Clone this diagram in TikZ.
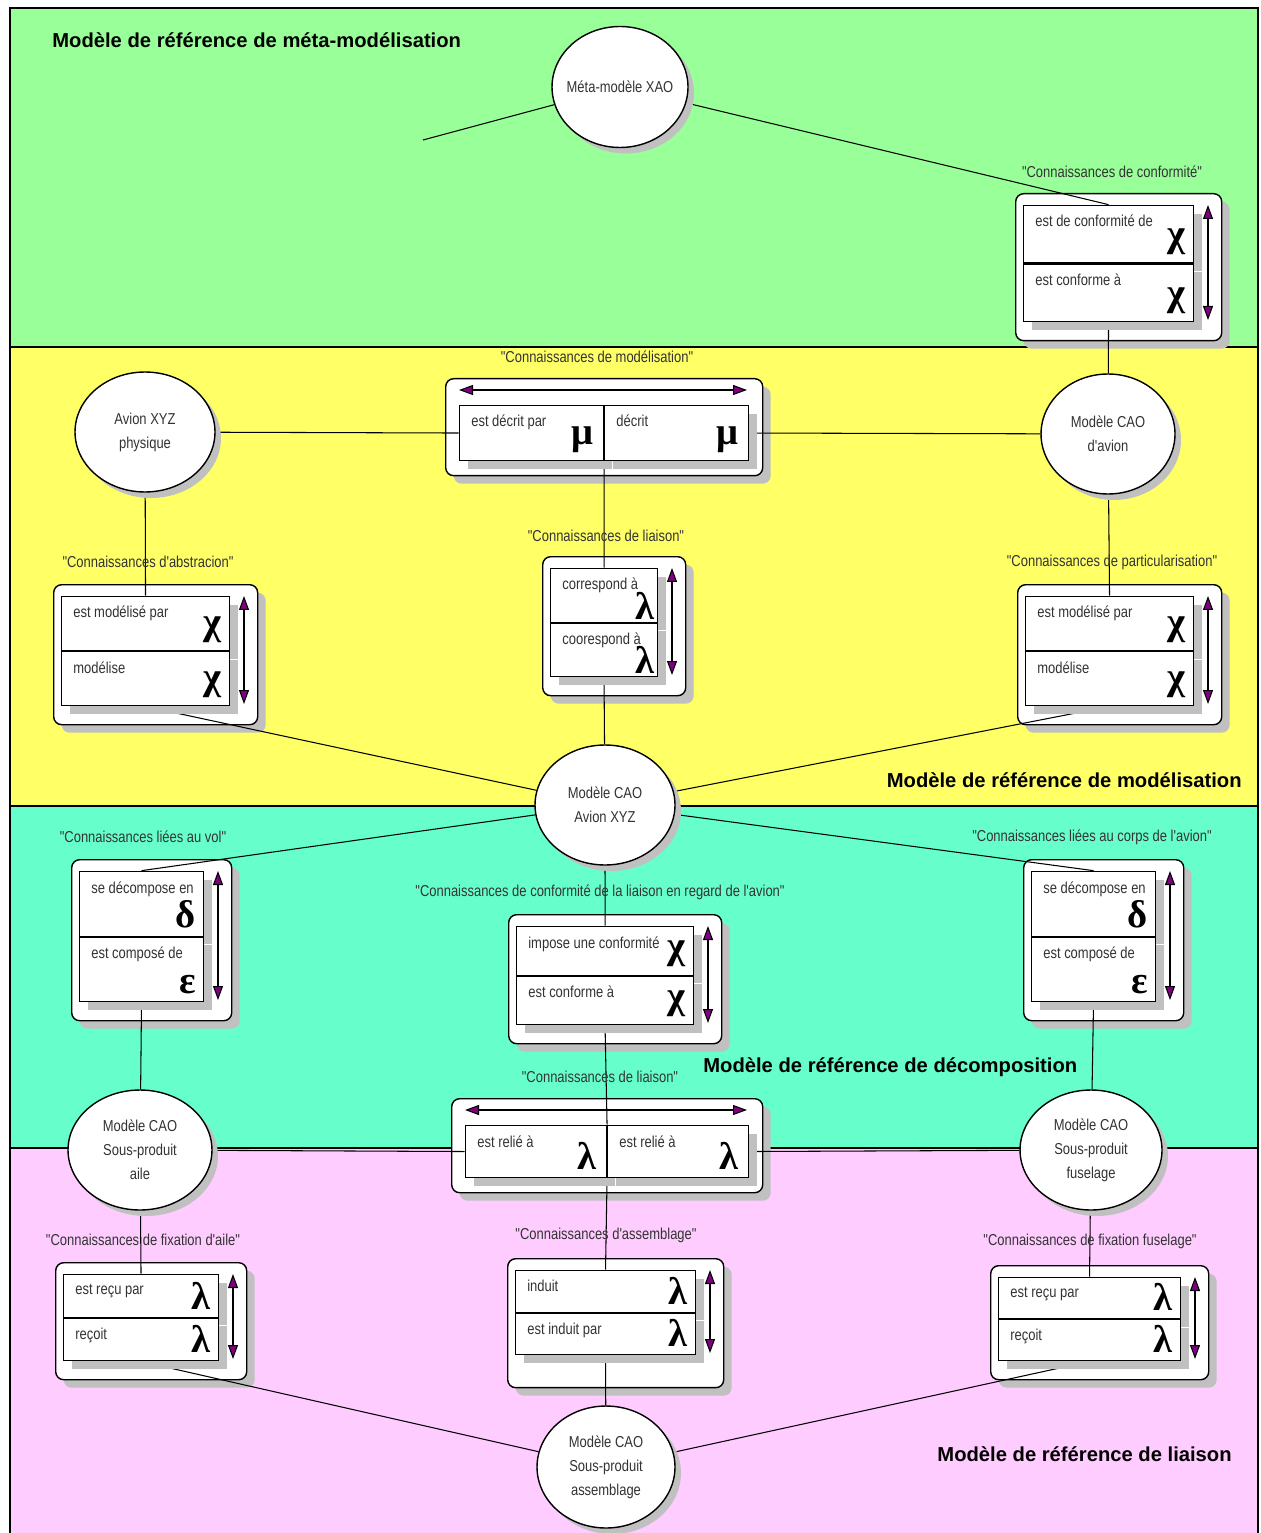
\documentclass[tikz,border=0pt]{standalone}
\usepackage{fontspec}
\setmainfont{Liberation Sans}
\newfontfamily\narrowfont[FakeStretch=0.82]{Liberation Sans}
\newfontfamily\greekfont{Liberation Serif}
\usepackage{tikz}
\usetikzlibrary{shapes.geometric,shadows,fit,arrows.meta}
\definecolor{BandMeta}{HTML}{99FF99}
\definecolor{BandModel}{HTML}{FFFF66}
\definecolor{BandDecomp}{HTML}{66FFCC}
\definecolor{BandLiaison}{HTML}{FFCCFF}
\definecolor{ShadowGray}{HTML}{C0C0C0}
\definecolor{ArrowPurple}{HTML}{800080}
\pgfdeclarelayer{bands}
\pgfdeclarelayer{frames}
\pgfdeclarelayer{links}
\pgfsetlayers{bands,frames,links,main}

% vertical relation box: name, left, top, width, cell height, text/greek top, text/greek bottom
\newcommand\relbox[9]{%
  \begin{pgfonlayer}{frames}
    \node[relframe, minimum width={(#4+36)*0.02cm}, minimum height={(2*#5+32)*0.02cm}, framesize] (#1f) at ({#2-8},{#3-12}) {};
  \end{pgfonlayer}
  \node[relcell, minimum width={#4*0.02cm}, minimum height={#5*0.02cm}] (#1a) at (#2,#3) {};
  \node[relcell, minimum width={#4*0.02cm}, minimum height={#5*0.02cm}] (#1b) at (#1a.south west) {};
  \node[fit=(#1a)(#1b), inner sep=0pt] (#1) {};
  \node[reltext] (#1ta) at ([shift={(12,10)}]#1a.north west) {#6};
  \node[relgreek] (#1ga) at (#1a.south east) {#7};
  \node[reltext] (#1tb) at ([shift={(12,10)}]#1b.north west) {#8};
  \node[relgreek] (#1gb) at (#1b.south east) {#9};
  \draw[dblarr] ({#2+#4+15},#3) -- ({#2+#4+15},{#3+2*#5});
}
% horizontal relation box: name, left, top, cell width, height, text/greek left, text/greek right
\newcommand\hrelbox[9]{%
  \begin{pgfonlayer}{frames}
    \node[relframe, minimum width={(2*#4+29)*0.02cm}, minimum height={(#5+42)*0.02cm}] (#1f) at ({#2-14},{#3-27}) {};
  \end{pgfonlayer}
  \node[relcell, minimum width={#4*0.02cm}, minimum height={#5*0.02cm}] (#1a) at (#2,#3) {};
  \node[relcell, minimum width={#4*0.02cm}, minimum height={#5*0.02cm}] (#1b) at (#1a.north east) {};
  \node[fit=(#1a)(#1b), inner sep=0pt] (#1) {};
  \node[reltext] (#1ta) at ([shift={(12,10)}]#1a.north west) {#6};
  \node[relgreek, xshift=-0.04cm] (#1ga) at (#1a.south east) {#7};
  \node[reltext] (#1tb) at ([shift={(12,10)}]#1b.north west) {#8};
  \node[relgreek, xshift=-0.04cm] (#1gb) at (#1b.south east) {#9};
  \draw[dblarr] (#2,{#3-15}) -- ({#2+2*#4},{#3-15});
}

\begin{document}
\begin{tikzpicture}[
  x=0.02cm, y=-0.02cm,
  bandline/.style={line width=1.1pt},
  bandtitle/.style={font=\bfseries\fontsize{11.5}{13}\selectfont, inner sep=0pt},
  modelell/.style={ellipse, draw, fill=white, line width=0.8pt, inner sep=0pt, inner xsep=-0.3cm,
                   font=\narrowfont\fontsize{9}{13.6}\selectfont, align=center, text=black!80,
                   drop shadow={shadow xshift=0.12cm, shadow yshift=-0.12cm, fill=ShadowGray, opacity=1}},
  relframe/.style={rectangle, rounded corners=0.16cm, draw, fill=white, line width=0.8pt,
                   anchor=north west, inner sep=0pt,
                   drop shadow={shadow xshift=0.16cm, shadow yshift=-0.16cm, fill=ShadowGray, opacity=1}},
  framesize/.style={},
  relcell/.style={rectangle, draw, fill=white, line width=0.6pt, anchor=north west, inner sep=0pt,
                  drop shadow={shadow xshift=0.16cm, shadow yshift=-0.16cm, fill=ShadowGray, opacity=1}},
  reltext/.style={anchor=north west, inner sep=0pt, text=black!80,
                  font=\narrowfont\fontsize{9}{11}\selectfont},
  relgreek/.style={anchor=south east, inner sep=0pt, xshift=-0.16cm, yshift=0.16cm, greekpos,
                   font=\greekfont\bfseries\fontsize{22}{22}\selectfont},
  greekpos/.style={},
  knowlbl/.style={inner sep=0pt, text=black!80, font=\narrowfont\fontsize{9}{11}\selectfont},
  dblarr/.style={<->, >={Triangle[length=0.28cm, width=0.2cm, fill=ArrowPurple]}, line width=0.6pt},
  link/.style={line width=0.6pt},
]
\useasboundingbox (0,0) rectangle (1260,1533);

% Bands
\begin{pgfonlayer}{bands}
  \filldraw[bandline, fill=BandMeta] (10,8) rectangle (1258,347);
  \filldraw[bandline, fill=BandModel] (10,347) rectangle (1258,806);
  \filldraw[bandline, fill=BandDecomp] (10,806) rectangle (1258,1148);
  \filldraw[bandline, fill=BandLiaison] (10,1148) rectangle (1258,1540);
\end{pgfonlayer}

\node[bandtitle, anchor=base west] (tmeta) at (52,48) {Modèle de référence de méta-modélisation};
\node[bandtitle, anchor=base east] (tmodel) at (1242,787) {Modèle de référence de modélisation};
\node[bandtitle, anchor=base west] (tdecomp) at (703,1072) {Modèle de référence de décomposition};
\node[bandtitle, anchor=base east] (tliai) at (1232,1461) {Modèle de référence de liaison};

% Models
\node[modelell, minimum width=2.72cm, minimum height=2.42cm] (meta) at (620,87) {Méta-modèle XAO};
\node[modelell, minimum width=2.8cm, minimum height=2.4cm] (phys) at (145,432) {Avion XYZ\\physique};
\node[modelell, minimum width=2.68cm, minimum height=2.4cm] (cadav) at (1108,434) {Modèle CAO\\d'avion};
\node[modelell, minimum width=2.8cm, minimum height=2.4cm] (cadxyz) at (605,805) {Modèle CAO\\Avion XYZ};
\node[modelell, minimum width=2.88cm, minimum height=2.4cm] (aile) at (140,1150) {Modèle CAO\\Sous-produit\\aile};
\node[modelell, minimum width=2.84cm, minimum height=2.4cm] (fusel) at (1091,1150) {Modèle CAO\\Sous-produit\\fuselage};
\node[modelell, minimum width=2.76cm, minimum height=2.44cm] (assem) at (606,1467) {Modèle CAO\\Sous-produit\\assemblage};
\coordinate (metaend) at (423,140);

% Relation boxes
\relbox{conf}{1023}{205}{170}{57.5}{est de conformité de}{χ}{est conforme à}{χ}
\node[knowlbl] (confl) at (1112,172) {"Connaissances de conformité"};

\hrelbox{model}{459}{405}{144}{55}{est décrit par}{μ}{décrit}{μ}
\node[knowlbl] (modell) at (597,357) {"Connaissances de modélisation"};

\relbox{abs}{61}{596}{168}{54}{est modélisé par}{χ}{modélise}{χ}
\node[knowlbl] (absl) at (148,562) {"Connaissances d'abstracion"};

\begin{scope}[greekpos/.style={xshift=0.1cm, yshift=-0.1cm}]
\relbox{liay}{550}{568}{107}{53.5}{correspond à}{λ}{coorespond à}{λ}
\end{scope}
\node[knowlbl] (liayl) at (606,536) {"Connaissances de liaison"};

\relbox{part}{1025}{596}{168}{54}{est modélisé par}{χ}{modélise}{χ}
\node[knowlbl] (partl) at (1112,562) {"Connaissances de particularisation"};

\relbox{vol}{79}{871}{124}{64.5}{se décompose en}{δ}{est composé de}{ε}
\node[knowlbl] (voll) at (143,837) {"Connaissances liées au vol"};

\relbox{cfl}{516}{926}{177}{48.5}{impose une conformité}{χ}{est conforme à}{χ}
\node[knowlbl] (cfll) at (600,892) {"Connaissances de conformité de la liaison en regard de l'avion"};

\relbox{corps}{1031}{871}{124}{64.5}{se décompose en}{δ}{est composé de}{ε}
\node[knowlbl] (corpsl) at (1092,837) {"Connaissances liées au corps de l'avion"};

\hrelbox{liab}{465}{1125}{141}{52}{est relié à}{λ}{est relié à}{λ}
\node[knowlbl] (liabl) at (600,1077) {"Connaissances de liaison"};

\relbox{fixa}{63}{1274}{155}{42.5}{est reçu par}{λ}{reçoit}{λ}
\node[knowlbl] (fixal) at (143,1240) {"Connaissances de fixation d'aile"};

\begin{scope}[framesize/.style={minimum height=2.58cm}]
\relbox{asm}{515}{1270}{180}{41.5}{induit}{λ}{est induit par}{λ}
\end{scope}
\node[knowlbl] (asml) at (606,1235) {"Connaissances d'assemblage"};

\relbox{fixf}{998}{1277}{182}{41}{est reçu par}{λ}{reçoit}{λ}
\node[knowlbl] (fixfl) at (1090,1241) {"Connaissances de fixation fuselage"};

% Links
\begin{pgfonlayer}{links}
  \draw[link] (metaend) -- (meta);
  \draw[link] (meta) -- (conf.north);
  \draw[link] (conf.south) -- (cadav);
  \draw[link] (phys) -- (model.west);
  \draw[link] (model.east) -- (cadav);
  \draw[link] (model.south) -- (liay.north);
  \draw[link] (liay.south) -- (cadxyz);
  \draw[link] (phys) -- (abs.north);
  \draw[link] (abs.south) -- (cadxyz);
  \draw[link] (cadav) -- (part.north);
  \draw[link] (part.south) -- (cadxyz);
  \draw[link] (cadxyz) -- (vol.north);
  \draw[link] (vol.south) -- (aile);
  \draw[link] (cadxyz) -- (corps.north);
  \draw[link] (corps.south) -- (fusel);
  \draw[link] (cadxyz) -- (cfl.north);
  \draw[link] (cfl.south) -- (liab.north);
  \draw[link] (aile) -- (liab.west);
  \draw[link] (liab.east) -- (fusel);
  \draw[link] (liab.south) -- (asm.north);
  \draw[link] (asm.south) -- (assem);
  \draw[link] (aile) -- (fixa.north);
  \draw[link] (fixa.south) -- (assem);
  \draw[link] (fusel) -- (fixf.north);
  \draw[link] (fixf.south) -- (assem);
\end{pgfonlayer}
\end{tikzpicture}
\end{document}
